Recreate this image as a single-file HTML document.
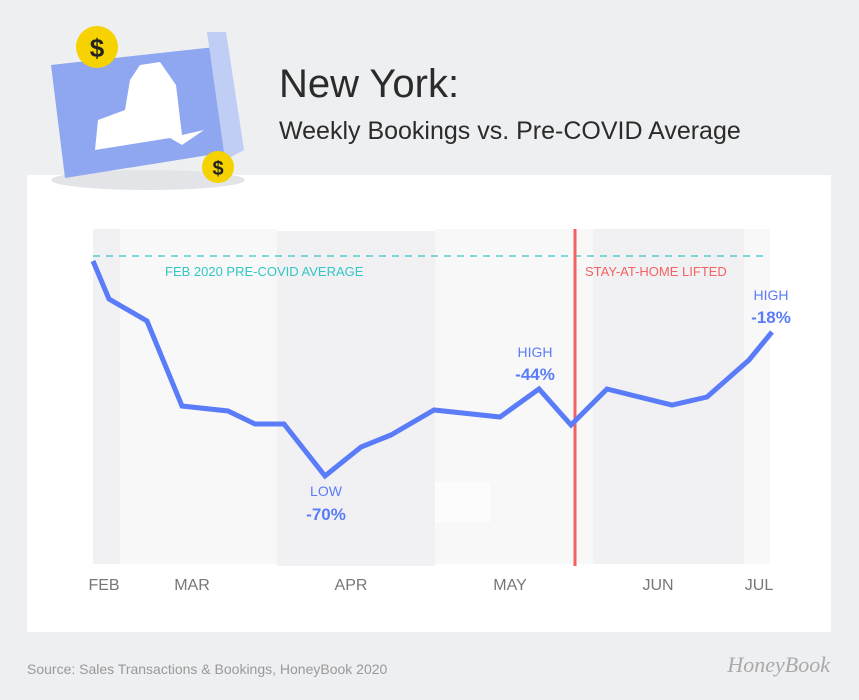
<!DOCTYPE html><html><head><style>
body{margin:0;width:859px;height:700px;background:#eeeff1;font-family:"Liberation Sans",sans-serif;position:relative;overflow:hidden}
</style></head><body>
<svg width="859" height="700" style="position:absolute;left:0;top:0">
<rect x="27" y="175" width="804" height="457" fill="#fff"/>
<ellipse cx="148" cy="180" rx="97" ry="10" fill="#e3e4e8"/>
<polygon points="51,65 215,47 240,150 65,178" fill="#8fa6f0"/>
<polygon points="207,32 226,32 244,150 225,160" fill="#c0cdf5"/>
<path d="M140,65 L160,62 L176,85 L182,135 L204,130 L182,145 L170,138 L95,150 L98,120 L125,110 L130,80 Z" fill="#fff"/>
<circle cx="97" cy="47" r="21" fill="#f6d200"/><text x="97" y="57" font-size="26" font-weight="bold" text-anchor="middle" fill="#222">$</text>
<circle cx="218" cy="167" r="16" fill="#f6d200"/><text x="218" y="175" font-size="20" font-weight="bold" text-anchor="middle" fill="#222">$</text>
<rect x="93" y="229" width="27" height="335" fill="#f1f1f3"/>
<rect x="120" y="229" width="157" height="335" fill="#f8f8f9"/>
<rect x="277" y="231" width="158" height="335" fill="#f1f1f3"/>
<rect x="435" y="229" width="158" height="335" fill="#f8f8f9"/>
<rect x="435" y="482" width="56" height="40" fill="#fcfcfc"/>
<rect x="593" y="229" width="151" height="335" fill="#f1f1f3"/>
<rect x="744" y="229" width="26" height="335" fill="#f8f8f9"/>
<line x1="93" y1="256" x2="766" y2="256" stroke="#33c7c4" stroke-width="1.3" stroke-dasharray="7,6"/>
<line x1="575" y1="229" x2="575" y2="566" stroke="#f26262" stroke-width="3"/>
<polyline fill="none" stroke="#5a7cf8" stroke-width="5" stroke-linejoin="miter" points="93,261 109,299 147,321 182,406 228,411 255,424 284,424 325,476 361,447 391,435 434,410 500,417 539,389 571,425 607,389 672,405 707,397 749,360 772,332"/>
<g font-size="13" fill="#33c7c4"><text x="165" y="276">FEB 2020 PRE-COVID AVERAGE</text></g>
<text x="585" y="276" font-size="13" fill="#f26262">STAY-AT-HOME LIFTED</text>
<g fill="#5a7cf8" text-anchor="middle"><text x="326" y="496" font-size="14">LOW</text><text x="326" y="520" font-size="17" font-weight="bold">-70%</text>
<text x="535" y="357" font-size="14">HIGH</text><text x="535" y="380" font-size="17" font-weight="bold">-44%</text>
<text x="771" y="300" font-size="14">HIGH</text><text x="771" y="323" font-size="17" font-weight="bold">-18%</text></g>
<g font-size="16" fill="#777" text-anchor="middle"><text x="104" y="590">FEB</text><text x="192" y="590">MAR</text><text x="351" y="590">APR</text><text x="510" y="590">MAY</text><text x="658" y="590">JUN</text><text x="759" y="590">JUL</text></g>
<text x="279" y="97" font-size="40" fill="#2b2b2b">New York:</text>
<text x="279" y="139" font-size="25" fill="#2b2b2b">Weekly Bookings vs. Pre-COVID Average</text>
<text x="27" y="674" font-size="14" fill="#999">Source: Sales Transactions &amp; Bookings, HoneyBook 2020</text>
<text x="830" y="672" font-size="22" font-style="italic" fill="#aaa" text-anchor="end" font-family="Liberation Serif,serif">HoneyBook</text>
</svg>
</body></html>
